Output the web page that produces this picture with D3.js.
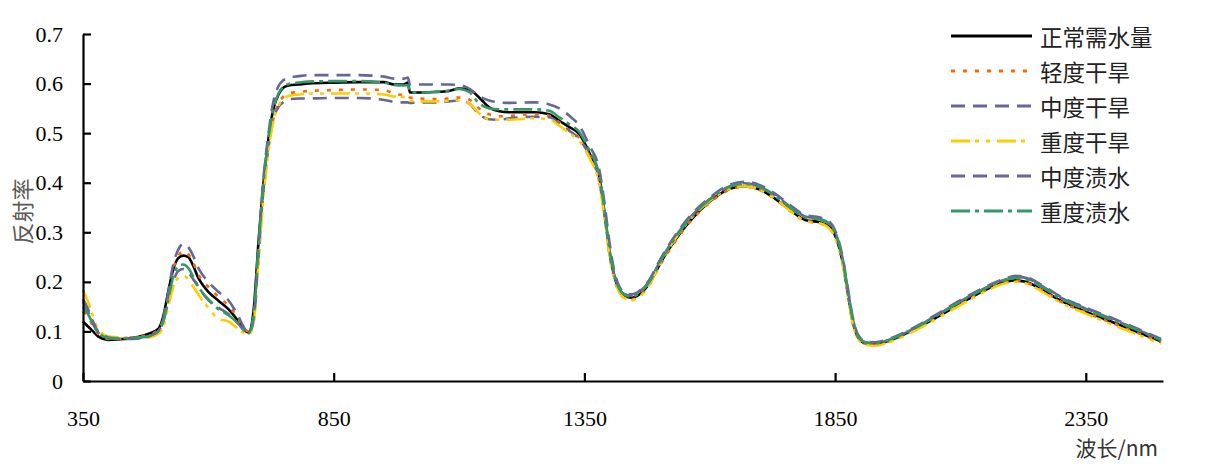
<!DOCTYPE html>
<html><head><meta charset="utf-8">
<script src="https://cdn.jsdelivr.net/npm/d3@7"></script>
<style>
body{margin:0;background:#fff;}
svg{display:block;}
.num{font-family:"Liberation Serif","Times New Roman",serif;font-size:22px;fill:#000;}
.cjk{font-family:"Noto Sans CJK SC","Noto Sans",sans-serif;}
</style></head>
<body>
<svg id="chart" width="1208" height="466"></svg>
<script>
// ---- data ----
const wavelengths = [350,360,370,380,400,420,450,480,500,510,
 520,530,540,550,560,570,580,590,600,620,
 640,660,670,680,690,700,710,720,730,740,
 750,760,780,800,850,900,950,970,990,998,
 1002,1020,1050,1080,1100,1120,1140,1160,1180,1200,
 1250,1280,1300,1320,1340,1360,1380,1390,1400,1410,
 1420,1430,1445,1460,1480,1500,1530,1560,1600,1640,
 1670,1700,1730,1760,1790,1820,1840,1855,1865,1875,
 1885,1895,1910,1930,1960,2000,2050,2100,2150,2190,
 2210,2230,2260,2300,2350,2400,2450,2500];

const normal = [0.12,0.11,0.10,0.09,0.083,0.084,0.087,0.095,0.105,0.13,
 0.18,0.225,0.248,0.253,0.25,0.232,0.208,0.192,0.18,0.162,
 0.145,0.12,0.105,0.098,0.14,0.28,0.40,0.49,0.55,0.578,
 0.592,0.596,0.598,0.600,0.602,0.603,0.603,0.598,0.598,0.602,
 0.582,0.582,0.583,0.585,0.590,0.588,0.572,0.552,0.544,0.542,
 0.542,0.538,0.525,0.512,0.498,0.46,0.41,0.34,0.26,0.21,
 0.183,0.172,0.168,0.175,0.197,0.235,0.283,0.322,0.362,0.388,
 0.393,0.386,0.368,0.345,0.325,0.32,0.31,0.28,0.24,0.18,
 0.12,0.09,0.076,0.074,0.082,0.10,0.127,0.156,0.184,0.2,
 0.203,0.2,0.186,0.162,0.14,0.12,0.1,0.08];

const lightDrought = [0.14,0.13,0.11,0.095,0.085,0.085,0.088,0.093,0.103,0.125,
 0.175,0.225,0.252,0.262,0.256,0.238,0.215,0.2,0.19,0.17,
 0.152,0.125,0.108,0.1,0.13,0.25,0.38,0.47,0.53,0.56,
 0.574,0.58,0.583,0.585,0.587,0.588,0.587,0.58,0.577,0.578,
 0.572,0.57,0.569,0.57,0.572,0.568,0.55,0.538,0.534,0.535,
 0.538,0.535,0.522,0.505,0.49,0.455,0.4,0.335,0.255,0.205,
 0.178,0.168,0.165,0.172,0.195,0.232,0.28,0.32,0.36,0.386,
 0.392,0.385,0.367,0.343,0.323,0.318,0.307,0.278,0.238,0.178,
 0.118,0.088,0.075,0.073,0.081,0.099,0.126,0.155,0.183,0.199,
 0.202,0.199,0.185,0.16,0.138,0.118,0.098,0.078];

const moderateDrought = [0.16,0.14,0.115,0.098,0.087,0.085,0.086,0.09,0.1,0.12,
 0.16,0.2,0.222,0.226,0.218,0.205,0.19,0.175,0.163,0.148,
 0.135,0.115,0.103,0.095,0.12,0.25,0.39,0.48,0.53,0.553,
 0.563,0.568,0.57,0.57,0.571,0.571,0.567,0.563,0.562,0.562,
 0.561,0.562,0.562,0.564,0.566,0.56,0.538,0.528,0.527,0.53,
 0.533,0.532,0.52,0.505,0.488,0.455,0.405,0.34,0.265,0.212,
 0.186,0.175,0.172,0.18,0.202,0.24,0.289,0.329,0.367,0.393,
 0.399,0.392,0.375,0.352,0.332,0.327,0.317,0.287,0.247,0.187,
 0.127,0.093,0.078,0.076,0.084,0.102,0.131,0.161,0.188,0.205,
 0.21,0.208,0.193,0.168,0.146,0.126,0.105,0.083];

const severeDrought = [0.183,0.16,0.13,0.105,0.09,0.088,0.087,0.088,0.095,0.11,
 0.15,0.19,0.208,0.213,0.205,0.19,0.175,0.16,0.148,0.125,
 0.12,0.105,0.097,0.093,0.115,0.24,0.37,0.465,0.525,0.555,
 0.57,0.575,0.578,0.58,0.58,0.58,0.578,0.574,0.573,0.573,
 0.566,0.564,0.564,0.565,0.566,0.56,0.54,0.528,0.527,0.527,
 0.53,0.528,0.515,0.5,0.484,0.45,0.395,0.33,0.255,0.205,
 0.178,0.167,0.163,0.17,0.195,0.235,0.285,0.325,0.363,0.388,
 0.393,0.386,0.368,0.344,0.323,0.318,0.306,0.276,0.236,0.176,
 0.116,0.086,0.073,0.071,0.079,0.097,0.124,0.153,0.181,0.197,
 0.2,0.197,0.182,0.158,0.136,0.115,0.095,0.075];

const moderateWaterlog = [0.165,0.145,0.12,0.1,0.088,0.085,0.085,0.09,0.1,0.125,
 0.18,0.235,0.265,0.277,0.27,0.252,0.228,0.212,0.2,0.18,
 0.163,0.13,0.11,0.097,0.125,0.27,0.41,0.5,0.565,0.595,
 0.607,0.612,0.615,0.617,0.617,0.617,0.614,0.61,0.61,0.612,
 0.598,0.598,0.598,0.598,0.597,0.59,0.575,0.566,0.562,0.561,
 0.562,0.558,0.55,0.535,0.515,0.475,0.425,0.36,0.28,0.22,
 0.19,0.178,0.175,0.182,0.205,0.243,0.292,0.332,0.37,0.396,
 0.402,0.395,0.378,0.355,0.335,0.33,0.32,0.29,0.25,0.19,
 0.13,0.095,0.08,0.078,0.086,0.104,0.133,0.163,0.19,0.207,
 0.212,0.21,0.195,0.17,0.148,0.128,0.107,0.085];

const severeWaterlog = [0.15,0.135,0.115,0.098,0.087,0.086,0.087,0.09,0.1,0.12,
 0.165,0.21,0.232,0.235,0.228,0.21,0.19,0.176,0.165,0.145,
 0.133,0.115,0.103,0.096,0.13,0.27,0.4,0.49,0.55,0.58,
 0.594,0.599,0.602,0.604,0.605,0.605,0.602,0.597,0.596,0.597,
 0.583,0.582,0.583,0.586,0.589,0.583,0.56,0.55,0.548,0.548,
 0.548,0.545,0.532,0.518,0.502,0.465,0.415,0.345,0.265,0.213,
 0.185,0.174,0.17,0.178,0.2,0.238,0.287,0.327,0.366,0.392,
 0.398,0.391,0.373,0.35,0.33,0.326,0.315,0.285,0.244,0.184,
 0.124,0.092,0.078,0.076,0.084,0.102,0.13,0.16,0.187,0.204,
 0.208,0.205,0.191,0.166,0.144,0.124,0.104,0.082];

const seriesNames = ["正常需水量","轻度干旱","中度干旱","重度干旱","中度渍水","重度渍水"];
const seriesValues = [normal, lightDrought, moderateDrought, severeDrought, moderateWaterlog, severeWaterlog];
const xTickValues = [350, 850, 1350, 1850, 2350];
const yTickValues = [0, 0.1, 0.2, 0.3, 0.4, 0.5, 0.6, 0.7];
const xTitle = "波长/nm";
const yTitle = "反射率";

// ---- styles ----
const styles = [
  {color:"#000000", dash:null},
  {color:"#FF6600", dash:"4,8"},
  {color:"#666699", dash:"14,8"},
  {color:"#FFCC00", dash:"19,5,4,7,4,7"},
  {color:"#666699", dash:"14,8"},
  {color:"#339966", dash:"19,5,4,5"}
];

const svg = d3.select("#chart");
const x = d3.scaleLinear().domain([350, 2504]).range([83, 1163]);
const y = d3.scaleLinear().domain([0, 0.7]).range([381, 34]);

// lines
const line = d3.line().x(d => x(d[0])).y(d => y(d[1])).curve(d3.curveMonotoneX);
seriesValues.forEach((vals, i) => {
  const pts = wavelengths.map((w, j) => [w, vals[j]]);
  svg.append("path").datum(pts)
    .attr("d", line)
    .attr("fill", "none")
    .attr("stroke", styles[i].color)
    .attr("stroke-width", 2.6)
    .attr("stroke-dasharray", styles[i].dash)
    .attr("stroke-linejoin", "round");
});

// axes
const yAxis = d3.axisLeft(y).tickValues(yTickValues)
  .tickFormat(d => d === 0 ? "0" : d.toFixed(1))
  .tickSizeInner(-8).tickSizeOuter(0).tickPadding(20);
const gy = svg.append("g").attr("transform", `translate(${x(350)},0)`).call(yAxis);

const xAxis = d3.axisBottom(x).tickValues(xTickValues)
  .tickFormat(d3.format("d"))
  .tickSizeInner(-8).tickSizeOuter(0).tickPadding(29);
const gx = svg.append("g").attr("transform", `translate(0,${y(0)})`).call(xAxis);

[gx, gy].forEach(g => {
  g.select(".domain").attr("stroke", "#000").attr("stroke-width", 2.2);
  g.selectAll(".tick line").attr("stroke", "#000").attr("stroke-width", 2.2);
  g.selectAll(".tick text").attr("class", "num").attr("fill", "#000");
});

// titles
svg.append("text").attr("class", "cjk")
  .attr("transform", `translate(21,${(y(0)+y(0.7))/2 + 4}) rotate(-90)`)
  .attr("text-anchor", "middle").attr("dominant-baseline", "central")
  .attr("font-size", 22).attr("fill", "#595959").text(yTitle);

svg.append("text").attr("class", "cjk")
  .attr("x", 1158).attr("y", 456).attr("text-anchor", "end")
  .attr("font-size", 21).attr("fill", "#333").text(xTitle);

// legend
const lg = svg.append("g").attr("transform", "translate(951,36)");
seriesNames.forEach((name, i) => {
  const gi = lg.append("g").attr("transform", `translate(0,${i * 35})`);
  gi.append("line").attr("x1", 0).attr("x2", 81).attr("y1", 0).attr("y2", 0)
    .attr("stroke", styles[i].color).attr("stroke-width", 3)
    .attr("stroke-dasharray", styles[i].dash);
  gi.append("text").attr("class", "cjk").attr("x", 89).attr("y", 0)
    .attr("dominant-baseline", "central").attr("font-size", 22.5)
    .attr("fill", "#222").text(name);
});
</script>
</body></html>
